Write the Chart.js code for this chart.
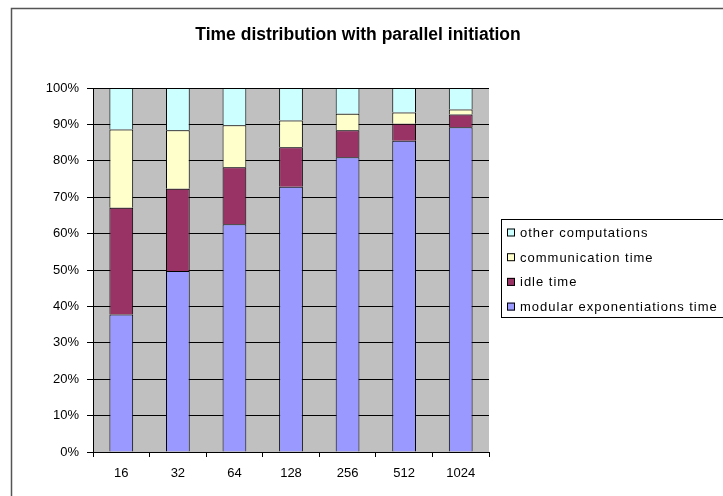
<!DOCTYPE html>
<html>
<head>
<meta charset="utf-8">
<script src="https://cdn.jsdelivr.net/npm/chart.js@4/dist/chart.umd.min.js"></script>
<style>
  body { margin: 0; background: #fff; }
  #wrap { width: 723px; height: 496px; position: relative; }
</style>
</head>
<body>
<div id="wrap"><canvas id="myChart"></canvas></div>
<script>
// data (percent of total time)
var categories = ['16', '32', '64', '128', '256', '512', '1024'];
var modExpTime = [37.8, 49.7, 62.6, 72.9, 81.0, 85.5, 89.2];
var idleTime   = [29.3, 22.6, 15.6, 10.8, 7.4, 4.7, 3.5];
var commTime   = [21.5, 16.1, 11.6, 7.4, 4.5, 3.1, 1.4];
var otherComp  = [11.4, 11.6, 10.2, 8.9, 7.1, 6.7, 5.9];
var yTicks = [0, 10, 20, 30, 40, 50, 60, 70, 80, 90, 100];

var font = '"Liberation Sans", Arial, sans-serif';

// grey plot background + outer frame
var frame = {
  id: 'frame',
  beforeDraw: function(chart) {
    var ctx = chart.ctx, a = chart.chartArea;
    ctx.save();
    ctx.fillStyle = '#c0c0c0';
    ctx.fillRect(a.left, a.top, a.right - a.left, a.bottom - a.top);
    ctx.strokeStyle = '#555';
    ctx.lineWidth = 1.5;
    ctx.strokeRect(11.5, 8.5, 730, 500);
    ctx.restore();
  }
};

// excel style legend with box, drawn from the datasets
var boxLegend = {
  id: 'boxLegend',
  afterDraw: function(chart) {
    var ctx = chart.ctx;
    var sets = chart.data.datasets.slice().reverse();
    ctx.save();
    ctx.strokeStyle = '#000';
    ctx.lineWidth = 1;
    ctx.strokeRect(501.5, 219.5, 240, 98);
    ctx.font = '13px ' + font;
    ctx.letterSpacing = '1px';
    ctx.textBaseline = 'middle';
    for (var i = 0; i < sets.length; i++) {
      var y = 232.5 + i * 24.7;
      ctx.fillStyle = sets[i].backgroundColor;
      ctx.fillRect(507, y - 4, 8, 8);
      ctx.strokeStyle = '#000';
      ctx.strokeRect(507.5, y - 3.5, 7, 7);
      ctx.fillStyle = '#000';
      ctx.fillText(sets[i].label, 520, y + 1);
    }
    ctx.restore();
  }
};

var c = document.getElementById('myChart').getContext('2d');

new Chart(c, {
  type: 'bar',
  data: {
    labels: categories,
    datasets: [
      { label: 'modular exponentiations time', data: modExpTime, backgroundColor: '#9999ff' },
      { label: 'idle time', data: idleTime, backgroundColor: '#993366' },
      { label: 'communication time', data: commTime, backgroundColor: '#ffffcc' },
      { label: 'other computations', data: otherComp, backgroundColor: '#ccffff' }
    ].map(function(d) {
      d.borderColor = '#000';
      d.borderWidth = 1;
      d.barPercentage = 0.42;
      d.categoryPercentage = 1;
      return d;
    })
  },
  options: {
    responsive: true,
    maintainAspectRatio: false,
    animation: false,
    layout: { padding: { left: 11, top: 8, right: 18, bottom: 0 } },
    plugins: {
      legend: { display: false },
      tooltip: { enabled: false },
      title: {
        display: true,
        text: 'Time distribution with parallel initiation',
        color: '#000',
        font: { family: font, size: 17.5, weight: 'bold' },
        padding: { top: 16.5, bottom: 42.5 }
      }
    },
    scales: {
      x: {
        stacked: true,
        grid: { offset: true, drawOnChartArea: false, drawTicks: true, tickLength: 5, color: '#000' },
        border: { color: '#000' },
        ticks: { color: '#000', font: { family: font, size: 13 }, padding: 9, maxRotation: 0 },
        afterFit: function(s) { s.height = 44; }
      },
      y: {
        stacked: true,
        min: 0,
        max: 100,
        afterBuildTicks: function(s) { s.ticks = yTicks.map(function(v) { return { value: v }; }); },
        grid: { color: '#000', tickLength: 6 },
        border: { color: '#000' },
        ticks: {
          color: '#000',
          font: { family: font, size: 13 },
          padding: 8,
          callback: function(v) { return v + '%'; }
        },
        afterFit: function(s) { s.width = 82; }
      },
      legendSpace: {
        type: 'linear',
        position: 'right',
        display: true,
        grid: { display: false },
        border: { display: false },
        ticks: { display: false },
        afterFit: function(s) { s.width = 216; }
      }
    }
  },
  plugins: [frame, boxLegend]
});
</script>
</body>
</html>
